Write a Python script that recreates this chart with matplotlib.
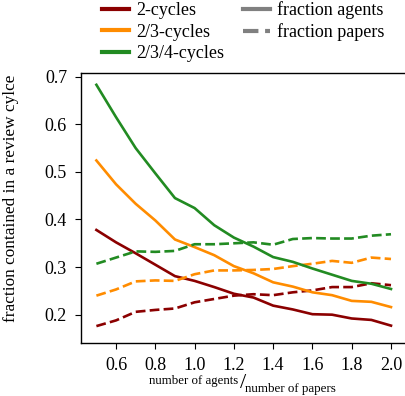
import numpy as np
import matplotlib
matplotlib.use('Agg')
import matplotlib.pyplot as plt
from matplotlib.lines import Line2D

plt.rcParams['font.family'] = ['Liberation Serif', 'DejaVu Serif']

ratio = [0.5, 0.6, 0.7, 0.8, 0.9, 1.0, 1.1, 1.2, 1.3, 1.4, 1.5, 1.6, 1.7, 1.8, 1.9, 2.0]

# fraction agents (solid)
agents_2 = [0.378, 0.352, 0.329, 0.305, 0.281, 0.271, 0.258, 0.244, 0.236, 0.219, 0.211, 0.201, 0.200, 0.192, 0.189, 0.177]
agents_23 = [0.524, 0.474, 0.433, 0.398, 0.358, 0.342, 0.325, 0.302, 0.287, 0.268, 0.259, 0.247, 0.241, 0.229, 0.227, 0.216]
agents_234 = [0.683, 0.615, 0.550, 0.497, 0.445, 0.424, 0.388, 0.362, 0.343, 0.321, 0.311, 0.297, 0.284, 0.271, 0.265, 0.254]

# fraction papers (dashed)
papers_2 = [0.176, 0.188, 0.206, 0.210, 0.213, 0.226, 0.233, 0.240, 0.243, 0.241, 0.247, 0.251, 0.258, 0.258, 0.266, 0.262]
papers_23 = [0.240, 0.253, 0.270, 0.272, 0.271, 0.285, 0.293, 0.293, 0.294, 0.296, 0.302, 0.307, 0.313, 0.309, 0.320, 0.317]
papers_234 = [0.307, 0.320, 0.333, 0.332, 0.334, 0.348, 0.348, 0.350, 0.352, 0.347, 0.359, 0.361, 0.360, 0.360, 0.366, 0.369]

labels = ['2-cycles', '2/3-cycles', '2/3/4-cycles']
colors = ['#8b0000', '#ff8c00', '#228b22']

fig = plt.figure(figsize=(4.05, 3.96), dpi=100)
ax = fig.add_axes([81/405, 1-343/396, 326/405, 270/396])

for a, p, c in zip([agents_2, agents_23, agents_234], [papers_2, papers_23, papers_234], colors):
    ax.plot(ratio, a, color=c, lw=1.9, ls='-')
    ax.plot(ratio, p, color=c, lw=1.9, ls='--')

ax.set_xlim(0.4216, 2.0815)
ax.set_ylim(0.1405, 0.7078)
ax.set_xticks([0.6, 0.8, 1.0, 1.2, 1.4, 1.6, 1.8, 2.0])
ax.set_yticks([0.2, 0.3, 0.4, 0.5, 0.6, 0.7])
ax.set_xticklabels(['0.6', '0.8', '1.0', '1.2', '1.4', '1.6', '1.8', '2.0'])
ax.set_yticklabels(['0.2', '0.3', '0.4', '0.5', '0.6', '0.7'])
ax.tick_params(direction='out', length=4, width=0.8, labelsize=13, pad=6)
for s in ax.spines.values():
    s.set_linewidth(1.0)

ax.set_ylabel('fraction contained in a review cylce', fontsize=12.4)
ax.yaxis.set_label_coords(-0.19, 0.535)

# x label written as a slanted fraction
fig.text(238/405, 1-384/396, 'number of agents', fontsize=9.3, ha='right', va='baseline')
fig.text(243/405, 1-384/396, '/', fontsize=16, ha='center', va='center')
fig.text(245/405, 1-392/396, 'number of papers', fontsize=9.4, ha='left', va='baseline')

handles = [Line2D([], [], color=c, lw=3) for c in colors]
handles += [Line2D([], [], color='gray', lw=3, ls='-'),
            Line2D([], [], color='gray', lw=3, ls='--')]
fig.legend(handles, labels + ['fraction agents', 'fraction papers'],
           ncol=2, frameon=False, fontsize=13, loc='upper left',
           bbox_to_anchor=(86/405, 1.038), handlelength=1.5,
           labelspacing=0.25, columnspacing=1.0, handletextpad=0.4)

fig.savefig('out.png', dpi=100)
